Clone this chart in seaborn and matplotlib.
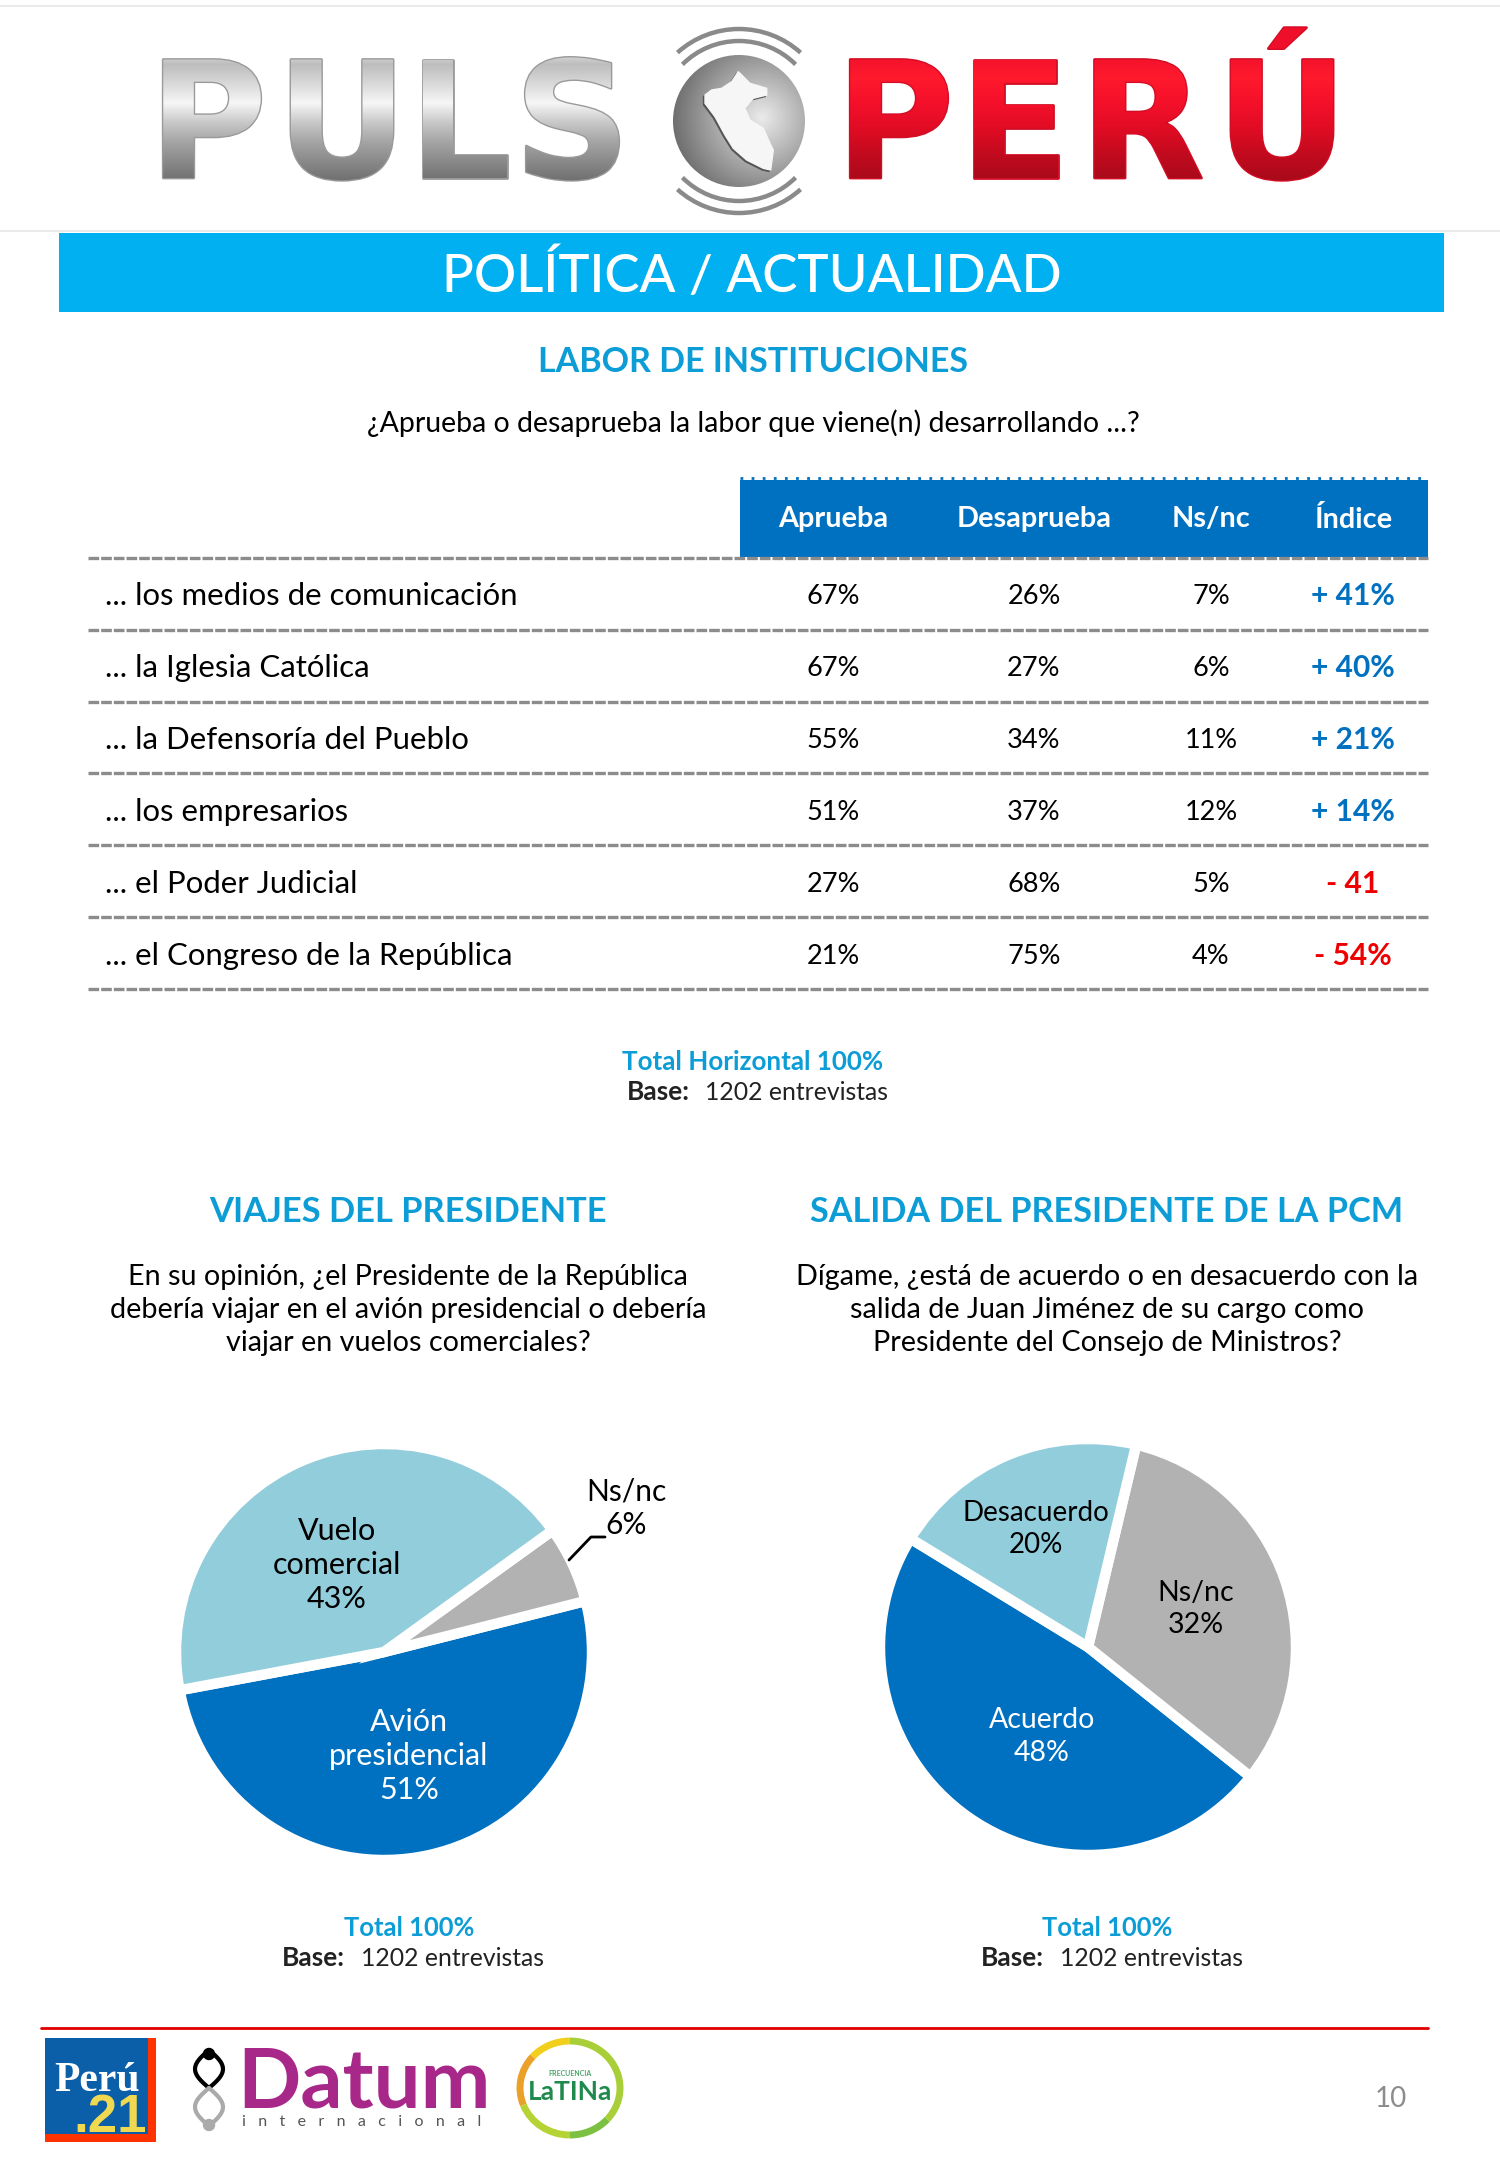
import numpy as np
import seaborn as sns
import matplotlib.pyplot as plt
import matplotlib.patheffects as pe
from matplotlib.colors import LinearSegmentedColormap
from matplotlib.font_manager import FontProperties
from matplotlib.patches import Rectangle, Ellipse, Polygon, Arc, Circle, PathPatch
from matplotlib.textpath import TextPath
from matplotlib.transforms import Affine2D

sns.set_theme(style="white")
plt.rcParams['font.family'] = ['Lato', 'DejaVu Sans']

# table data
institutions = ["... los medios de comunicación", "... la Iglesia Católica", "... la Defensoría del Pueblo",
                "... los empresarios", "... el Poder Judicial", "... el Congreso de la República"]
headers = ["Aprueba", "Desaprueba", "Ns/nc", "Índice"]
aprueba = [67, 67, 55, 51, 27, 21]
desaprueba = [26, 27, 34, 37, 68, 75]
nsnc = [7, 6, 11, 12, 5, 4]
indice = ["+ 41%", "+ 40%", "+ 21%", "+ 14%", "- 41", "- 54%"]

# pies
viajes_labels = ["Avión\npresidencial\n51%", "", "Vuelo\ncomercial\n43%"]
viajes_values = [51, 6, 43]
salida_labels = ["Acuerdo\n48%", "Ns/nc\n32%", "Desacuerdo\n20%"]
salida_values = [48, 32, 20]

BLUE = "#0070c0"
SKY = "#00b0f0"
TITLE = "#0c9dd6"
RED = "#ee0000"
pie_colors = sns.color_palette([BLUE, "#b2b2b2", "#92cddc"])

W, H = 1500, 2167
fig = plt.figure(figsize=(W / 100, H / 100), dpi=100, facecolor="white")
ax = fig.add_axes([0, 0, 1, 1])
ax.set_xlim(0, W)
ax.set_ylim(H, 0)
ax.axis("off")


def txt(x, y, s, size, color="black", weight="normal", ha="center", **kw):
    return ax.text(x, y, s, fontsize=size, color=color, fontweight=weight, ha=ha, va="center", **kw)


def logo_word(letters, centers, colors, base):
    # each letter is real text, with a metal gradient laid over its outline
    size = 117
    base_y = 178
    prop = FontProperties(family="DejaVu Sans", weight="bold", size=size)
    cmap = LinearSegmentedColormap.from_list("metal", colors)
    k = 100 / 72
    for ch, c in zip(letters, centers):
        path = TextPath((0, 0), ch, size=size, prop=prop)
        box = path.get_extents()
        x = c - (box.x0 + box.x1) / 2 * k
        ax.text(x, base_y, ch, fontproperties=prop, color=base, ha="left", va="baseline",
                path_effects=[pe.withStroke(linewidth=2, foreground=base)])
        patch = PathPatch(path, transform=Affine2D().scale(k, -k).translate(x, base_y) + ax.transData,
                          fc="none", lw=0)
        ax.add_patch(patch)
        im = ax.imshow(np.linspace(0, 1, 128)[:, None], cmap=cmap, aspect="auto",
                       extent=(x - 10, x + 170, 181, 25), zorder=3)
        im.set_clip_path(patch)


# top logo
ax.plot([0, W], [6, 6], color="#e6e6e6", lw=1.2)
ax.plot([0, W], [231, 231], color="#e6e6e6", lw=1.2)
silver = ["#f2f2f2", "#f2f2f2", "#bdbdbd", "#d9d9d9", "#f7f7f7", "#c9c9c9", "#a5a5a5", "#8a8a8a", "#707070"]
logo_word("PULS", [212, 342, 465, 572], silver, "#9a9a9a")
crimson = ["#f00f2a", "#f00f2a", "#ff1a2e", "#f5102a", "#e00c24", "#c20a1e", "#a80a1a"]
logo_word("PERÚ", [899, 1016, 1148, 1282], crimson, "#d20d25")

gx, gy = np.meshgrid(np.linspace(-1, 1, 160), np.linspace(-1, 1, 160))
shade = np.clip(0.92 - 0.36 * np.hypot(gx - 0.35, gy + 0.05), 0.42, 0.95)
globe = ax.imshow(shade, cmap="gray", vmin=0, vmax=1, aspect="auto", extent=(673, 805, 187, 55), zorder=3)
disc = Circle((739, 121), 66, fc="none", lw=0)
ax.add_patch(disc)
globe.set_clip_path(disc)
peru = np.array([[265, 155], [285, 175], [300, 190], [350, 205], [350, 225], [310, 235], [285, 265], [300, 300],
                 [340, 325], [360, 370], [370, 390], [362, 450], [340, 445], [290, 420], [250, 385], [225, 345],
                 [195, 290], [165, 250], [165, 225], [185, 210], [215, 205], [245, 185]])
peru_xy = np.c_[peru[:, 0] / 3 + 650, peru[:, 1] / 3 + 20]
ax.add_patch(Polygon(peru_xy + [-1.5, 1.5], color="#555555", zorder=4))
ax.add_patch(Polygon(peru_xy, color="#f6f6f6", zorder=4))
for r, half in [(80, 45), (92, 42)]:
    for mid in (90, 270):
        ax.add_patch(Arc((739, 121), 2 * r, 2 * r, theta1=mid - half, theta2=mid + half,
                         color="#8a8a8a", lw=3.2, zorder=4))
ax.set_xlim(0, W)
ax.set_ylim(H, 0)

# band and titles
ax.add_patch(Rectangle((59, 233), 1385, 79, color=SKY, lw=0))
txt(752, 275, "POLÍTICA / ACTUALIDAD", 38, "white", "medium")
txt(753, 362, "LABOR DE INSTITUCIONES", 24.5, TITLE, "bold")
txt(753, 423, "¿Aprueba o desaprueba la labor que viene(n) desarrollando ...?", 20.5)

# table
ax.add_patch(Rectangle((740, 480), 688, 77, color=BLUE, lw=0))
ax.plot([740, 1428], [478, 478], color=BLUE, lw=2, ls=(0, (1, 3)))
col_x = [833, 1034, 1211, 1353]
for x, h in zip(col_x, headers):
    txt(x, 519, h, 20.8, "white", "bold")
row_y = [596, 668, 740, 812, 884, 956]
line_y = [558, 630, 702, 773, 845, 917, 989]
for y in line_y:
    ax.plot([88, 1428], [y, y], color="#8c8c8c", lw=2.4, ls=(0, (3.2, 0.6)))
for i, y in enumerate(row_y):
    txt(105, y, institutions[i], 22.4, ha="left")
    txt(col_x[0], y, f"{aprueba[i]}%", 19.5)
    txt(col_x[1], y, f"{desaprueba[i]}%", 19.5)
    txt(col_x[2], y, f"{nsnc[i]}%", 19.5)
    txt(col_x[3], y, indice[i], 21.5, BLUE if indice[i][0] == "+" else RED, "bold")

txt(753, 1062, "Total Horizontal 100%", 18.7, TITLE, "bold")
txt(627, 1092, "Base:", 19, "#222222", "bold", ha="left")
txt(705, 1092, "1202 entrevistas", 17.8, "#222222", ha="left")

# lower titles
txt(408, 1212, "VIAJES DEL PRESIDENTE", 24.8, TITLE, "bold")
txt(1107, 1212, "SALIDA DEL PRESIDENTE DE LA PCM", 24.7, TITLE, "bold")
q1 = ["En su opinión, ¿el Presidente de la República", "debería viajar en el avión presidencial o debería",
      "viajar en vuelos comerciales?"]
q2 = ["Dígame, ¿está de acuerdo o en desacuerdo con la", "salida de Juan Jiménez de su cargo como",
      "Presidente del Consejo de Ministros?"]
for y, a, b in zip([1277, 1310, 1343], q1, q2):
    txt(408, y, a, 20.7)
    txt(1107, y, b, 20.7)


def draw_pie(cx, cy, r, values, start):
    pax = fig.add_axes([(cx - r) / W, 1 - (cy + r) / H, 2 * r / W, 2 * r / H])
    pax.pie(values, colors=pie_colors, startangle=start, counterclock=True, radius=1,
            wedgeprops=dict(edgecolor="white", linewidth=7.5))
    pax.set_xlim(-1, 1)
    pax.set_ylim(-1, 1)
    pax.patch.set_alpha(0)
    for w in pax.patches:
        w.set_clip_on(False)


draw_pie(384, 1652, 208, viajes_values, 190.6)
draw_pie(1088, 1647, 208, salida_values, 148.6)

pie_text = fig.add_axes([0, 0, 1, 1])
pie_text.set_xlim(0, W)
pie_text.set_ylim(H, 0)
pie_text.axis("off")
ax = pie_text

for y, s in zip([1722, 1756, 1790], viajes_labels[0].split("\n")):
    txt(409, y, s, 22, "white")
for y, s in zip([1531, 1565, 1599], viajes_labels[2].split("\n")):
    txt(337, y, s, 22)
txt(626, 1491, "Ns/nc", 21.5)
txt(626, 1525, "6%", 21.5)
ax.plot([569, 591, 605], [1560, 1537, 1537], color="black", lw=2)
for y, s in zip([1720, 1753], salida_labels[0].split("\n")):
    txt(1042, y, s, 20.5, "white")
for y, s in zip([1593, 1625], salida_labels[1].split("\n")):
    txt(1196, y, s, 20.5)
for y, s in zip([1513, 1545], salida_labels[2].split("\n")):
    txt(1036, y, s, 20)

for cx, bx in [(409, 282), (1107, 981)]:
    txt(cx, 1928, "Total 100%", 18.4, TITLE, "bold")
    txt(bx, 1958, "Base:", 19, "#222222", "bold", ha="left")
    txt(bx + 79, 1958, "1202 entrevistas", 17.8, "#222222", ha="left")

# footer
ax.plot([41, 1428], [2028, 2028], color="#e00000", lw=2)
txt(1391, 2099, "10", 20, "#8c8c8c")

ax.add_patch(Rectangle((45, 2038), 111, 104, color="#ff3300", lw=0))
ax.add_patch(Rectangle((45, 2038), 103, 96, color="#0b5ea8", lw=0))
txt(97, 2081, "Perú", 30, "white", "bold", family="Liberation Serif")
txt(110, 2118, ".21", 38, "#f0d850", "bold", family="Liberation Sans")

ax.text(237, 2108, "Datum", fontsize=60, color="#a8288a", ha="left", va="baseline", family="Lato", fontweight="bold")
txt(242, 2122, "i   n   t   e   r   n   a   c   i   o   n   a   l", 11.5, "#555555", ha="left")
for color, yy in [("black", np.linspace(2050, 2088, 20)), ("#aaaaaa", np.linspace(2088, 2126, 20))]:
    s = np.sin((yy - 2050) / 76 * 2 * np.pi)
    ax.plot(209 + 14 * s, yy, color=color, lw=3)
    ax.plot(209 - 14 * s, yy, color=color, lw=3)
ax.add_patch(Ellipse((209, 2054), 11, 11, color="black"))
ax.add_patch(Ellipse((209, 2125), 11, 11, color="#aaaaaa"))

ring = [(0, 90, "#a8cf38"), (90, 140, "#f2cf1d"), (140, 200, "#eba02a"),
        (200, 270, "#b5d334"), (270, 320, "#7cc142"), (320, 360, "#a8cf38")]
for a, b, c in ring:
    ax.add_patch(Arc((570, 2088), 100, 94, theta1=360 - b, theta2=360 - a, color=c, lw=5))
txt(570, 2092, "LaTINa", 19, "#1f8a4c", "bold")
txt(570, 2074, "FRECUENCIA", 5, "#4aa36a", "bold")

fig.savefig("out.png", dpi=100, facecolor="white")
